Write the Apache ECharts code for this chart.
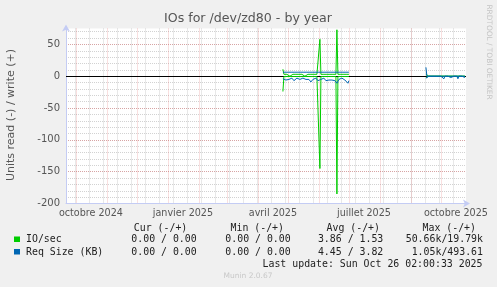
<!DOCTYPE html>
<html><head><meta charset="utf-8">
<script src="https://cdn.jsdelivr.net/npm/echarts@6/dist/echarts.min.js"></script>
<style>html,body{margin:0;padding:0;background:#f0f0f0;}#c{width:497px;height:287px;}</style>
</head><body><div id="c"></div>
<script>
// ---- data ----
const rangeStart = '2024-09-21T02:00:00Z';
const rangeEnd = '2025-10-26T02:00:00Z';
const monthLabels = ['octobre 2024', 'janvier 2025', 'avril 2025', 'juillet 2025', 'octobre 2025'];
const monthLabelDates = ['2024-10-16', '2025-01-16', '2025-04-16', '2025-07-16', '2025-10-16'];

// period A: daily values from 2025-04-26
const segAStart = '2025-04-26';
const ioWriteA = [11,3,3,3,3,3,3,0,3,3, 3,3,3,3,3,3,3,3,3,3, 3,3,0,3,3,3,3,3,3,3, 0,3,3,3,3,3,3,58,3,3, 3,3,3,3,3,0,3,3,3,3, 3,3,3,3,73,3,3,0,3,3, 3,3,0,3,3,3,3];
const ioReadA = [-24,-0.5,-0.5,-0.5,-0.5,-0.5,-0.5,-0.5,-0.5,-0.5, -0.5,-0.5,-0.5,-0.5,-0.5,-0.5,-0.5,-0.5,-0.5,-0.5, -0.5,-0.5,-0.5,-0.5,-0.5,-0.5,-0.5,-0.5,-0.5,-0.5, -0.5,-0.5,-0.5,-0.5,-0.5,-0.5,-0.5,-145,-0.5,-0.5, -0.5,-0.5,-0.5,-0.5,-0.5,-0.5,-0.5,-0.5,-0.5,-0.5, -0.5,-0.5,-0.5,-0.5,-185,-0.5,-0.5,-0.5,-0.5,-0.5, -0.5,-0.5,-0.5,-0.5,-0.5,-0.5,-0.5];
const reqWriteA = [6.3,6.3,6.3,6.3,6.3,6.3,6.3,6.3,6.3,6.3, 6.3,7.5,6.3,6.3,6.3,6.3,6.3,6.3,6.3,6.3, 6.3,6.3,6.3,6.3,6.3,6.3,6.3,6.3,6.3,6.3, 6.3,6.3,6.3,6.3,6.3,6.3,6.3,6.3,6.3,6.3, 6.3,6.3,6.3,6.3,6.3,6.3,6.3,6.3,6.3,6.3, 6.3,6.3,6.3,6.3,6.3,6.3,6.3,6.3,6.3,6.3, 6.3,6.3,6.3,6.3,6.3,6.3,6.3];
const reqReadA = [-4,-5,-3,-6,-4,-7,-5,-4,-6,-3, -5,-7,-4,-5,-3,-6,-4,-5,-7,-4, -3,-6,-4,-5,-7,-4,-5,-6,-9,-11, -5,-4,-6,-3,-5,-7,-4,-9,-5,-4, -6,-3,-5,-7,-4,-5,-6,-4,-3,-6, -4,-5,-7,-8,-11,-10,-5,-4,-6,-3, -5,-4,-6,-7,-5,-11,-7];

// period B: daily values from 2025-09-16
const segBStart = '2025-09-16';
const ioWriteB = [3,0,0,0,0,0,0,0,0,0, 0,0,0,0,0,0,0,0,0,0, 0,0,0,0,0,0,0,0,0,0, 0,0,0,0,0,0,0,0,0,0];
const ioReadB = [-2,0,0,0,0,0,0,0,0,0, 0,0,0,0,0,0,0,0,0,0, 0,0,0,0,0,0,0,0,0,0, 0,0,0,0,0,0,0,0,0,0];
const reqWriteB = [14,0,0,0,0,0,0,0,0,0, 0,0,0,0,0,0,0,0,0,0, 0,0,0,0,0,0,0,0,0,0, 0,0,0,0,0,0,0,0,0,0];
const reqReadB = [-3,0,0,0,-2,0,0,0,0,0, 0,-2,0,0,0,0,0,0,-4,0, 0,0,0,0,0,-2,0,0,0,0, 0,0,-4,0,0,0,0,0,0,-2];

const legendHeader = ['Cur (-/+)', 'Min (-/+)', 'Avg (-/+)', 'Max (-/+)'];
const seriesNames = ['IO/sec', 'Req Size (KB)'];
const ioStats = ['0.00 / 0.00', '0.00 / 0.00', '3.86 / 1.53', '50.66k/19.79k'];
const reqStats = ['0.00 / 0.00', '0.00 / 0.00', '4.45 / 3.82', '1.05k/493.61'];
const lastUpdate = 'Last update: Sun Oct 26 02:00:33 2025';
const titleText = 'IOs for /dev/zd80 - by year';
const yName = 'Units read (-) / write (+)';

// ---- build ----
const DAY = 86400000;
const ms = s => new Date(s.length === 10 ? s + 'T00:00:00Z' : s).getTime();
const xMin = ms(rangeStart), xMax = ms(rangeEnd);
function build(arrA, arrB) {
  const out = [];
  arrA.forEach((v, i) => out.push([ms(segAStart) + i * DAY, v]));
  out.push([ms(segAStart) + arrA.length * DAY, null]);
  arrB.forEach((v, i) => out.push([ms(segBStart) + i * DAY, v]));
  return out;
}
const labelMs = monthLabelDates.map(ms);

// grid line positions (month starts = major, biweekly Mondays = minor)
const majorX = [], minorX = [];
for (let k = 0; k < 14; k++) { const t = Date.UTC(2024, 9 + k, 1); if (t <= xMax) majorX.push(t); }
for (let t = Date.UTC(2024, 8, 30); t <= xMax; t += 14 * DAY) minorX.push(t);

const green = '#00cc00', blue = '#0066b3';
const axisColor = '#c4ccf4';
const majorColor = 'rgba(224,90,90,0.38)';
const minorColor = 'rgba(180,180,180,0.6)';

const chart = echarts.init(document.getElementById('c'), null, {renderer: 'canvas'});
const dataLine = (name, data, color) => ({
  name, type: 'line', data, showSymbol: false, symbol: 'none', connectNulls: false,
  lineStyle: {color, width: 1}, itemStyle: {color}, z: 5, silent: true, animation: false
});
const markSeries = (lines, style, z) => ({
  type: 'line', data: [[xMin, null]], symbol: 'none', z, silent: true, animation: false,
  markLine: {silent: true, symbol: ['none', 'none'], label: {show: false}, animation: false,
    lineStyle: style, emphasis: {disabled: true}, data: lines}
});

const mono = 'DejaVu Sans Mono';
const txt = (x, y, text, align, opts) => ({
  type: 'text', x, y, silent: true,
  style: Object.assign({text, fill: '#222', font: '9.9px "' + mono + '"', textAlign: align, textVerticalAlign: 'middle'}, opts || {})
});
const colRight = [196.7, 290.7, 383.3, 483];
const headRight = [187.3, 284, 380, 476];
const graphics = [
  txt(248, 19, titleText, 'center', {fill: '#555', font: '12.6px "DejaVu Sans"'}),
  {type: 'text', x: 11, y: 115, rotation: Math.PI / 2, silent: true,
   style: {text: yName, fill: '#555', font: '11px "DejaVu Sans"', textAlign: 'center', textVerticalAlign: 'middle'}},
  {type: 'text', x: 489, y: 52, rotation: -Math.PI / 2, silent: true,
   style: {text: 'RRDTOOL / TOBI OETIKER', fill: '#c4c4c4', font: '7.4px "DejaVu Sans"', textAlign: 'center', textVerticalAlign: 'middle'}},
  {type: 'rect', shape: {x: 14, y: 236.5, width: 6, height: 5.5}, style: {fill: green}, silent: true},
  {type: 'rect', shape: {x: 14, y: 249, width: 6, height: 5.5}, style: {fill: blue}, silent: true},
  txt(26, 239.5, seriesNames[0], 'left'),
  txt(26, 252, seriesNames[1], 'left'),
  txt(482.5, 264, lastUpdate, 'right'),
  txt(248, 276, 'Munin 2.0.67', 'center', {fill: '#c8c8c8', font: '7.5px "DejaVu Sans"'})
];
legendHeader.forEach((h, i) => graphics.push(txt(headRight[i], 228, h, 'right')));
ioStats.forEach((s, i) => graphics.push(txt(colRight[i], 239.5, s, 'right')));
reqStats.forEach((s, i) => graphics.push(txt(colRight[i], 252, s, 'right')));

chart.setOption({
  animation: false,
  backgroundColor: '#f0f0f0',
  grid: {left: 66, top: 28.5, width: 400, height: 175, show: true, backgroundColor: '#ffffff', borderWidth: 0, containLabel: false, outerBoundsMode: 'none'},
  xAxis: {
    type: 'value', min: xMin, max: xMax, z: 6,
    axisLine: {show: true, onZero: false, lineStyle: {color: axisColor, width: 1}, symbol: ['none', 'arrow'], symbolSize: [6, 7], symbolOffset: [0, 4]},
    axisTick: {show: false}, splitLine: {show: false},
    axisLabel: {customValues: labelMs, hideOverlap: false, showMinLabel: true, showMaxLabel: true, color: '#555', fontSize: 9.6, fontFamily: 'DejaVu Sans', margin: 5,
      formatter: function (v) {
        let best = 0, bd = Infinity;
        labelMs.forEach((t, i) => { const d = Math.abs(t - v); if (d < bd) { bd = d; best = i; } });
        return bd < DAY ? monthLabels[best] : '';
      }}
  },
  yAxis: [
    {type: 'value', min: -200, max: 75, interval: 50, position: 'left', z: 4,
     axisLine: {show: true, onZero: false, lineStyle: {color: axisColor, width: 1}, symbol: ['none', 'arrow'], symbolSize: [6, 7], symbolOffset: [0, 4]},
     axisTick: {show: false},
     axisLabel: {color: '#555', fontSize: 10, fontFamily: 'DejaVu Sans', margin: 6, showMaxLabel: false},
     splitLine: {show: true, showMaxLine: false, lineStyle: {color: majorColor, type: [1, 1], width: 1}}},
    {type: 'value', min: -200, max: 75, interval: 10, position: 'left', z: 1, show: true,
     axisLine: {show: false}, axisTick: {show: false}, axisLabel: {show: false},
     splitLine: {show: true, showMaxLine: false, lineStyle: {color: minorColor, type: [1, 1], width: 1}}}
  ],
  graphic: {elements: graphics},
  series: [
    markSeries(minorX.map(t => ({xAxis: t})), {color: minorColor, type: [1, 1], width: 1}, 1),
    markSeries(majorX.map(t => ({xAxis: t})), {color: majorColor, type: [1, 1], width: 1}, 2),
    dataLine('IO/sec read', build(ioReadA, ioReadB), green),
    dataLine('IO/sec write', build(ioWriteA, ioWriteB), green),
    dataLine('Req Size read', build(reqReadA, reqReadB), blue),
    dataLine('Req Size write', build(reqWriteA, reqWriteB), blue),
    markSeries([{yAxis: 0}], {color: '#000', type: 'solid', width: 1}, 8)
  ]
});
</script></body></html>
